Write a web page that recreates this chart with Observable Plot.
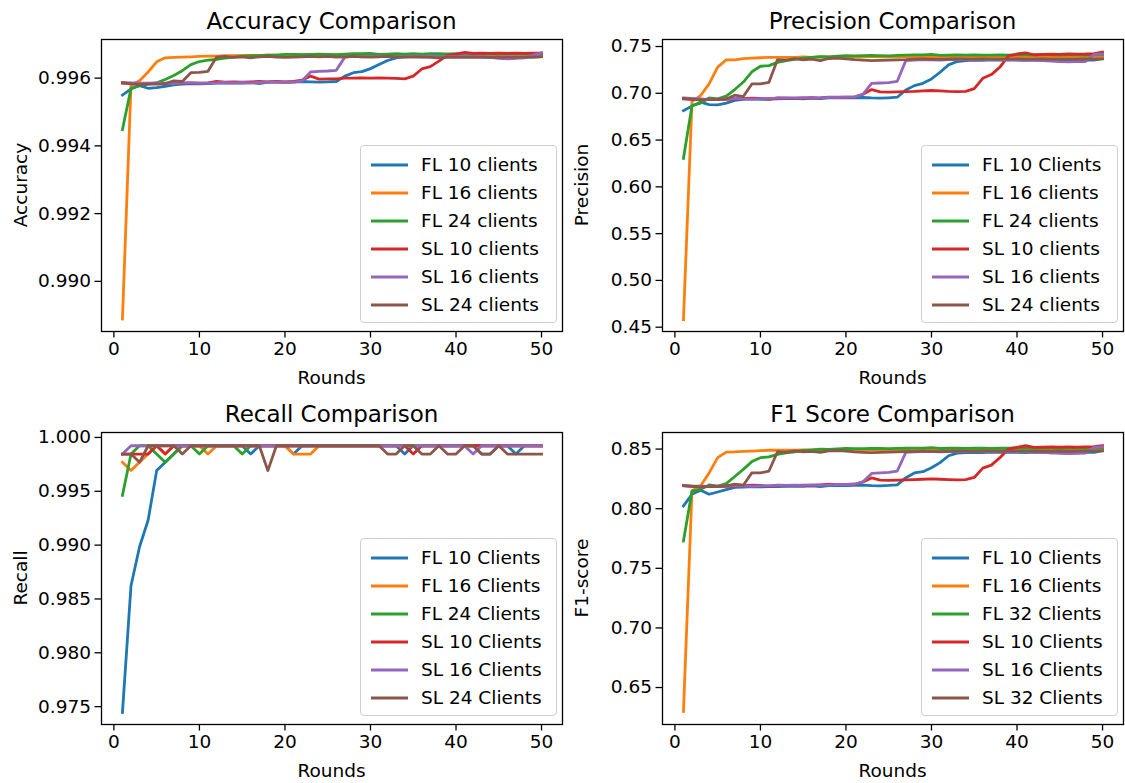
<!DOCTYPE html>
<html><head><meta charset="utf-8">
<script src="https://cdn.jsdelivr.net/npm/d3@7"></script>
<script src="https://cdn.jsdelivr.net/npm/@observablehq/plot@0.6"></script>
<style>
body{margin:0;background:#fff;}
#root{position:relative;width:1125px;height:783px;overflow:hidden;font-family:'DejaVu Sans',sans-serif;color:#000;background:#fff;}
.panel{position:absolute;}
.title{position:absolute;font-size:23px;white-space:nowrap;transform:translate(-50%,-50%);}
.xlabel{position:absolute;font-size:18.5px;white-space:nowrap;transform:translate(-50%,-50%);}
.ylabel{position:absolute;font-size:18.5px;white-space:nowrap;transform:translate(-50%,-50%) rotate(-90deg);}
.legend{position:absolute;border:1.3px solid #cfcfcf;border-radius:4px;background:rgba(255,255,255,0.8);box-sizing:border-box;}
.legend .lbl{position:absolute;font-size:18.5px;white-space:nowrap;transform:translateY(-50%);line-height:1;}
.legend svg{position:absolute;overflow:visible;}
</style>
</head><body><div id="root"></div>
<script>
const rounds = d3.range(1, 51);
const xTicks = [0, 10, 20, 30, 40, 50];
const colors = ["#1f77b4", "#ff7f0e", "#2ca02c", "#d62728", "#9467bd", "#8c564b"];

// ---------- Accuracy ----------
const accLabels = ["FL 10 clients","FL 16 clients","FL 24 clients","SL 10 clients","SL 16 clients","SL 24 clients"];
const accTicks = [0.990, 0.992, 0.994, 0.996];
const accFL10 = [.99550,.99568,.99578,.99570,.99572,.99576,.99580,.99582,.99584,.99583,.99584,.99585,.99585,.99586,.99585,.99587,.99584,.99588,.99588,.99588,.99588,.99590,.99589,.99588,.99589,.99590,.99606,.99616,.99619,.99628,.99640,.99652,.99660,.99663,.99664,.99663,.99665,.99664,.99666,.99664,.99663,.99665,.99664,.99662,.99664,.99663,.99662,.99663,.99662,.99663];
const accFL16 = [.98889,.99580,.99592,.99618,.99648,.99660,.99661,.99662,.99663,.99664,.99665,.99665,.99666,.99666,.99667,.99667,.99667,.99668,.99668,.99668,.99668,.99669,.99668,.99669,.99669,.99668,.99669,.99669,.99670,.99669,.99670,.99669,.99670,.99670,.99669,.99670,.99670,.99670,.99671,.99670,.99671,.99670,.99671,.99671,.99670,.99671,.99671,.99670,.99671,.99671];
const accFL24 = [.99448,.99570,.99578,.99582,.99586,.99596,.99608,.99622,.99640,.99649,.99653,.99655,.99659,.99662,.99664,.99666,.99666,.99668,.99668,.99670,.99670,.99669,.99670,.99671,.99670,.99669,.99671,.99672,.99672,.99673,.99670,.99671,.99672,.99671,.99672,.99671,.99672,.99672,.99671,.99672,.99671,.99672,.99672,.99671,.99672,.99672,.99671,.99672,.99672,.99672];
const accSL10 = [.99585,.99584,.99583,.99584,.99585,.99584,.99586,.99585,.99586,.99585,.99586,.99590,.99588,.99589,.99588,.99589,.99590,.99589,.99590,.99589,.99590,.99594,.99606,.99597,.99598,.99598,.99600,.99600,.99601,.99600,.99601,.99600,.99599,.99598,.99606,.99627,.99634,.99650,.99667,.99671,.99676,.99673,.99674,.99673,.99674,.99673,.99674,.99673,.99674,.99674];
const accSL16 = [.99587,.99586,.99585,.99585,.99586,.99585,.99584,.99586,.99586,.99585,.99585,.99586,.99587,.99586,.99587,.99586,.99587,.99588,.99588,.99587,.99588,.99592,.99618,.99620,.99621,.99623,.99662,.99664,.99663,.99664,.99665,.99664,.99663,.99664,.99665,.99664,.99665,.99664,.99663,.99664,.99665,.99664,.99663,.99661,.99658,.99657,.99658,.99660,.99668,.99675];
const accSL24 = [.99586,.99583,.99581,.99582,.99582,.99584,.99592,.99590,.99616,.99617,.99620,.99662,.99664,.99661,.99663,.99660,.99663,.99664,.99662,.99661,.99662,.99663,.99664,.99663,.99664,.99662,.99663,.99664,.99663,.99662,.99663,.99664,.99663,.99662,.99663,.99662,.99661,.99660,.99661,.99662,.99661,.99662,.99661,.99662,.99661,.99662,.99662,.99662,.99662,.99663];

// ---------- Precision ----------
const precLabels = ["FL 10 Clients","FL 16 clients","FL 24 clients","SL 10 clients","SL 16 clients","SL 24 clients"];
const precTicks = [0.45, 0.50, 0.55, 0.60, 0.65, 0.70, 0.75];
const precFL10 = [.6815,.6865,.6905,.6878,.6876,.6895,.6925,.6935,.6940,.6935,.6938,.6940,.6942,.6945,.6940,.6948,.6942,.6950,.6952,.6950,.6952,.6955,.6950,.6948,.6952,.6958,.7035,.7082,.7107,.7154,.7225,.7304,.7340,.7350,.7355,.7352,.7358,.7355,.7360,.7356,.7352,.7358,.7355,.7350,.7355,.7352,.7350,.7354,.7355,.7370];
const precFL16 = [.4580,.6910,.6975,.7100,.7280,.7357,.7357,.7370,.7375,.7380,.7385,.7385,.7383,.7385,.7388,.7385,.7388,.7390,.7388,.7390,.7389,.7390,.7391,.7390,.7389,.7391,.7390,.7391,.7392,.7390,.7391,.7390,.7392,.7391,.7390,.7392,.7391,.7390,.7391,.7392,.7391,.7390,.7391,.7392,.7391,.7390,.7391,.7392,.7391,.7391];
const precFL24 = [.6305,.6868,.6895,.6950,.6940,.6970,.7040,.7120,.7230,.7289,.7296,.7330,.7350,.7362,.7375,.7385,.7392,.7390,.7398,.7402,.7400,.7402,.7405,.7403,.7400,.7405,.7407,.7410,.7410,.7415,.7405,.7408,.7410,.7407,.7410,.7408,.7407,.7410,.7409,.7411,.7410,.7409,.7411,.7410,.7409,.7411,.7410,.7409,.7410,.7411];
const precSL10 = [.6940,.6935,.6930,.6935,.6932,.6935,.6938,.6942,.6948,.6945,.6935,.6950,.6948,.6945,.6950,.6948,.6952,.6960,.6955,.6958,.6960,.6990,.7040,.7015,.7012,.7015,.7018,.7020,.7025,.7030,.7025,.7020,.7018,.7020,.7050,.7160,.7200,.7280,.7400,.7420,.7432,.7412,.7415,.7418,.7416,.7420,.7418,.7420,.7425,.7440];
const precSL16 = [.6950,.6945,.6940,.6935,.6938,.6942,.6945,.6940,.6938,.6942,.6945,.6948,.6950,.6952,.6950,.6955,.6952,.6955,.6958,.6960,.6962,.6990,.7105,.7110,.7115,.7128,.7350,.7355,.7360,.7358,.7356,.7360,.7362,.7360,.7358,.7360,.7362,.7358,.7355,.7358,.7356,.7352,.7350,.7345,.7338,.7335,.7338,.7340,.7415,.7420];
const precSL24 = [.6945,.6935,.6930,.6932,.6935,.6940,.6980,.6965,.7100,.7100,.7117,.7360,.7355,.7370,.7358,.7365,.7350,.7372,.7375,.7368,.7360,.7355,.7350,.7352,.7355,.7358,.7360,.7365,.7368,.7365,.7362,.7365,.7368,.7366,.7365,.7368,.7366,.7365,.7366,.7368,.7366,.7365,.7367,.7365,.7366,.7365,.7366,.7368,.7366,.7368];

// ---------- Recall ----------
const recLabels = ["FL 10 Clients","FL 16 Clients","FL 24 Clients","SL 10 Clients","SL 16 Clients","SL 24 Clients"];
const recTicks = [0.975, 0.980, 0.985, 0.990, 0.995, 1.000];
const recFL10 = [.97446,.98623,.98985,.99231,.99692,.99769,.99846,.99923,.99923,.99923,.99923,.99923,.99923,.99923,.99923,.99846,.99923,.99923,.99923,.99923,.99846,.99923,.99923,.99923,.99923,.99923,.99923,.99923,.99923,.99923,.99923,.99923,.99923,.99846,.99923,.99923,.99923,.99923,.99923,.99923,.99923,.99923,.99846,.99846,.99923,.99923,.99846,.99923,.99923,.99923];
const recFL16 = [.99769,.99692,.99769,.99846,.99923,.99846,.99923,.99923,.99923,.99923,.99846,.99923,.99923,.99923,.99923,.99923,.99923,.99923,.99923,.99923,.99846,.99846,.99846,.99923,.99923,.99923,.99923,.99923,.99923,.99923,.99923,.99923,.99923,.99923,.99923,.99923,.99923,.99923,.99923,.99923,.99923,.99923,.99923,.99923,.99923,.99923,.99923,.99923,.99923,.99923];
const recFL24 = [.99462,.99846,.99923,.99923,.99846,.99769,.99846,.99923,.99923,.99846,.99923,.99923,.99923,.99923,.99846,.99923,.99923,.99923,.99923,.99923,.99923,.99923,.99923,.99923,.99923,.99923,.99923,.99923,.99923,.99923,.99923,.99923,.99923,.99923,.99923,.99923,.99923,.99923,.99923,.99923,.99923,.99923,.99923,.99923,.99923,.99923,.99923,.99923,.99923,.99923];
const recSL10 = [.99846,.99846,.99846,.99846,.99923,.99846,.99923,.99923,.99923,.99923,.99923,.99923,.99923,.99923,.99923,.99923,.99923,.99923,.99923,.99923,.99923,.99923,.99923,.99923,.99923,.99923,.99923,.99923,.99923,.99923,.99923,.99923,.99923,.99923,.99846,.99923,.99923,.99923,.99923,.99923,.99923,.99923,.99923,.99923,.99923,.99923,.99923,.99923,.99923,.99923];
const recSL16 = [.99846,.99923,.99923,.99923,.99923,.99923,.99923,.99923,.99923,.99923,.99923,.99923,.99923,.99923,.99923,.99923,.99923,.99923,.99923,.99923,.99923,.99923,.99923,.99923,.99923,.99923,.99923,.99923,.99923,.99923,.99923,.99923,.99923,.99923,.99923,.99923,.99923,.99923,.99923,.99923,.99923,.99846,.99923,.99923,.99923,.99923,.99923,.99923,.99923,.99923];
const recSL24 = [.99846,.99846,.99769,.99923,.99923,.99923,.99923,.99846,.99923,.99923,.99923,.99923,.99923,.99923,.99923,.99923,.99923,.99692,.99923,.99923,.99923,.99923,.99923,.99923,.99923,.99923,.99923,.99923,.99923,.99923,.99923,.99846,.99846,.99923,.99923,.99846,.99846,.99923,.99846,.99846,.99923,.99923,.99846,.99846,.99923,.99846,.99846,.99846,.99846,.99846];

// ---------- F1 ----------
const f1Labels = ["FL 10 Clients","FL 16 Clients","FL 32 Clients","SL 10 Clients","SL 16 Clients","SL 32 Clients"];
const f1Ticks = [0.65, 0.70, 0.75, 0.80, 0.85];
const f1FL10 = [.8023,.8121,.8154,.8121,.8140,.8160,.8178,.8182,.8185,.8183,.8185,.8186,.8188,.8190,.8187,.8192,.8186,.8193,.8195,.8194,.8195,.8197,.8193,.8192,.8195,.8200,.8260,.8300,.8310,.8344,.8386,.8444,.8466,.8470,.8472,.8470,.8474,.8472,.8475,.8472,.8470,.8474,.8472,.8468,.8472,.8470,.8469,.8472,.8473,.8486];
const f1FL16 = [.6299,.8150,.8190,.8300,.8428,.8475,.8476,.8480,.8483,.8487,.8490,.8492,.8490,.8492,.8494,.8492,.8494,.8495,.8494,.8495,.8494,.8495,.8496,.8495,.8494,.8496,.8495,.8496,.8497,.8495,.8496,.8495,.8497,.8496,.8495,.8497,.8496,.8495,.8496,.8497,.8496,.8495,.8496,.8497,.8496,.8495,.8496,.8497,.8496,.8496];
const f1FL32 = [.7729,.8148,.8162,.8199,.8190,.8210,.8270,.8330,.8395,.8428,.8434,.8455,.8468,.8476,.8488,.8494,.8500,.8498,.8502,.8505,.8503,.8504,.8506,.8505,.8503,.8506,.8507,.8508,.8508,.8512,.8505,.8507,.8508,.8506,.8508,.8507,.8506,.8508,.8507,.8509,.8508,.8507,.8509,.8508,.8507,.8509,.8508,.8507,.8508,.8509];
const f1SL10 = [.8192,.8188,.8184,.8188,.8186,.8188,.8190,.8193,.8197,.8195,.8188,.8198,.8196,.8194,.8198,.8196,.8200,.8205,.8202,.8204,.8205,.8225,.8258,.8240,.8238,.8240,.8242,.8244,.8247,.8250,.8247,.8244,.8242,.8244,.8262,.8340,.8365,.8428,.8500,.8515,.8528,.8514,.8516,.8518,.8516,.8518,.8516,.8518,.8520,.8530];
const f1SL16 = [.8196,.8192,.8190,.8186,.8188,.8191,.8193,.8190,.8188,.8191,.8193,.8195,.8196,.8198,.8196,.8200,.8198,.8200,.8202,.8203,.8205,.8225,.8296,.8300,.8305,.8316,.8472,.8476,.8479,.8478,.8477,.8479,.8480,.8479,.8478,.8479,.8480,.8478,.8476,.8478,.8477,.8474,.8473,.8469,.8464,.8462,.8464,.8466,.8515,.8520];
const f1SL32 = [.8192,.8188,.8184,.8185,.8188,.8192,.8205,.8197,.8300,.8300,.8316,.8478,.8475,.8484,.8476,.8481,.8472,.8485,.8487,.8482,.8476,.8473,.8470,.8472,.8474,.8476,.8478,.8481,.8483,.8481,.8479,.8481,.8483,.8482,.8481,.8483,.8482,.8481,.8482,.8483,.8482,.8481,.8482,.8481,.8482,.8481,.8482,.8483,.8482,.8484];

const panels = [
  {title:"Accuracy Comparison", ylabel:"Accuracy", series:[accFL10,accFL16,accFL24,accSL10,accSL16,accSL24], labels:accLabels, ticks:accTicks, fmt:d3.format(".3f"), domain:[0.98852,0.99714], left:0, top:0, mt:39},
  {title:"Precision Comparison", ylabel:"Precision", series:[precFL10,precFL16,precFL24,precSL10,precSL16,precSL24], labels:precLabels, ticks:precTicks, fmt:d3.format(".2f"), domain:[0.4454,0.7575], left:561, top:0, mt:39},
  {title:"Recall Comparison", ylabel:"Recall", series:[recFL10,recFL16,recFL24,recSL10,recSL16,recSL24], labels:recLabels, ticks:recTicks, fmt:d3.format(".3f"), domain:[0.97334,1.00046], left:0, top:392, mt:40},
  {title:"F1 Score Comparison", ylabel:"F1-score", series:[f1FL10,f1FL16,f1FL32,f1SL10,f1SL16,f1SL32], labels:f1Labels, ticks:f1Ticks, fmt:d3.format(".2f"), domain:[0.619,0.8639], left:561, top:392, mt:40}
];

const root = document.getElementById("root");
const W = 564, H = 391, ML = 101, MR = 2, PH = 292, PW = W - ML - MR;

function el(cls, text, x, y){
  const d = document.createElement("div");
  d.className = cls; d.textContent = text;
  d.style.left = x + "px"; d.style.top = y + "px";
  root.appendChild(d); return d;
}

panels.forEach(p => {
  const chart = Plot.plot({
    width: W, height: H,
    marginLeft: ML, marginRight: MR, marginTop: p.mt, marginBottom: H - p.mt - PH,
    style: {fontFamily: "DejaVu Sans", fontSize: "18.5px", background: "transparent", color: "#000", overflow: "visible"},
    x: {domain: [-1.45, 52.45]},
    y: {domain: p.domain},
    marks: [
      ...p.series.map((vals, i) => Plot.line(vals, {x: (d, j) => rounds[j], y: d => d, stroke: colors[i], strokeWidth: 2.8, strokeLinejoin: "round", strokeLinecap: "square"})),
      Plot.frame({stroke: "#000", strokeWidth: 1.3}),
      Plot.axisX({ticks: xTicks, tickFormat: d => String(d), tickSize: 6.5, tickPadding: 4, strokeWidth: 1.3, fontSize: 18.5, label: null}),
      Plot.axisY({ticks: p.ticks, tickFormat: p.fmt, tickSize: 6.5, tickPadding: 4, strokeWidth: 1.3, fontSize: 18.5, label: null})
    ]
  });
  chart.classList.add("panel");
  chart.style.left = p.left + "px"; chart.style.top = p.top + "px";
  root.appendChild(chart);

  const axL = p.left + ML, axT = p.top + p.mt, axR = axL + PW, axB = axT + PH;
  el("title", p.title, (axL + axR) / 2, axT - 18);
  el("xlabel", "Rounds", (axL + axR) / 2, axB + 46);
  el("ylabel", p.ylabel, axL - 81, (axT + axB) / 2);

  // legend (lower right)
  const lw = 197, lh = 178;
  const lg = document.createElement("div");
  lg.className = "legend";
  const lx = axR - 5 - lw, ly = axB - 8 - lh;
  lg.style.left = lx + "px"; lg.style.top = ly + "px";
  lg.style.width = lw + "px"; lg.style.height = lh + "px";
  p.labels.forEach((lab, i) => {
    const cy = 19 + 28 * i;
    const s = document.createElementNS("http://www.w3.org/2000/svg", "svg");
    s.setAttribute("width", 40); s.setAttribute("height", 6);
    s.style.left = "9px"; s.style.top = (cy - 3) + "px";
    const ln = document.createElementNS("http://www.w3.org/2000/svg", "line");
    ln.setAttribute("x1", 1); ln.setAttribute("x2", 38); ln.setAttribute("y1", 3); ln.setAttribute("y2", 3);
    ln.setAttribute("stroke", colors[i]); ln.setAttribute("stroke-width", 2.8);
    s.appendChild(ln); lg.appendChild(s);
    const t = document.createElement("div");
    t.className = "lbl"; t.textContent = lab;
    t.style.left = "60px"; t.style.top = cy + "px";
    lg.appendChild(t);
  });
  root.appendChild(lg);
});
</script>
</body></html>
